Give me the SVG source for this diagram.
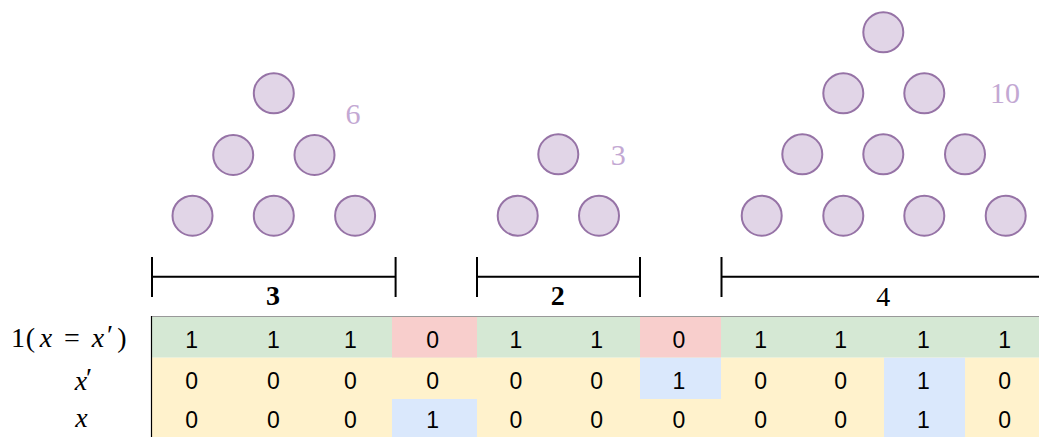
<svg xmlns="http://www.w3.org/2000/svg" width="1039" height="437" viewBox="0 0 1039 437">
<style>
.dot{fill:#e1d5e7;stroke:#9673a6;stroke-width:2}
.cnt{font-family:"Liberation Serif",serif;font-size:30px;fill:#c3a8d3;text-anchor:middle}
.br{stroke:#000;stroke-width:2;fill:none}
.bl{font-family:"Liberation Serif",serif;font-size:28px;fill:#000;text-anchor:middle}
.cell{font-family:"Liberation Sans",Arial,sans-serif;font-size:23px;fill:#000;text-anchor:middle}
.math{font-family:"Liberation Serif",serif;font-size:28px;fill:#000;text-anchor:middle}
.it{font-style:italic}
</style>
<rect width="1039" height="437" fill="#fff"/>
<g id="triangle-6">
<circle class="dot" cx="273.8" cy="93.3" r="20"/>
<circle class="dot" cx="233.2" cy="155" r="20"/>
<circle class="dot" cx="314.5" cy="155" r="20"/>
<circle class="dot" cx="192.5" cy="215.7" r="20"/>
<circle class="dot" cx="273.8" cy="215.7" r="20"/>
<circle class="dot" cx="355.1" cy="215.7" r="20"/>
<text class="cnt" x="353" y="123.5">6</text>
</g>
<g id="triangle-3">
<circle class="dot" cx="558.3" cy="154.3" r="20"/>
<circle class="dot" cx="517.7" cy="215.7" r="20"/>
<circle class="dot" cx="599" cy="215.7" r="20"/>
<text class="cnt" x="618.3" y="164.8">3</text>
</g>
<g id="triangle-10">
<circle class="dot" cx="883.3" cy="32.3" r="20"/>
<circle class="dot" cx="843.3" cy="93.3" r="20"/>
<circle class="dot" cx="924.3" cy="93.3" r="20"/>
<circle class="dot" cx="802.3" cy="154.3" r="20"/>
<circle class="dot" cx="883.3" cy="154.3" r="20"/>
<circle class="dot" cx="965" cy="154.3" r="20"/>
<circle class="dot" cx="761.7" cy="215.7" r="20"/>
<circle class="dot" cx="843.3" cy="215.7" r="20"/>
<circle class="dot" cx="924.3" cy="215.7" r="20"/>
<circle class="dot" cx="1005.7" cy="215.7" r="20"/>
<text class="cnt" x="1005" y="103">10</text>
</g>
<g id="connectors">
<path class="br" d="M152 276.7H395.6M152 257V297M395.6 257V297"/>
<path class="br" d="M477 276.7H640M477 257V297M640 257V297"/>
<path class="br" d="M721.5 276.7H1039M721.5 257V297"/>
</g>
<g id="bracket-labels">
<text class="bl" x="273" y="305" font-weight="bold">3</text>
<text class="bl" x="557.7" y="305" font-weight="bold">2</text>
<text class="bl" x="883.3" y="306">4</text>
</g>
<g id="table">
<rect x="151.5" y="316.5" width="887.5" height="41.2" fill="#d5e8d4"/>
<rect x="392" y="316.5" width="85" height="41.2" fill="#f8cecc"/>
<rect x="640" y="316.5" width="81" height="41.2" fill="#f8cecc"/>
<rect x="151.5" y="357.7" width="887.5" height="80" fill="#fff2cc"/>
<rect x="640" y="357.7" width="81" height="41.3" fill="#dae8fc"/>
<rect x="884" y="357.7" width="81" height="80" fill="#dae8fc"/>
<rect x="392" y="399" width="85" height="38.5" fill="#dae8fc"/>
<line x1="151.5" y1="316.5" x2="1039" y2="316.5" stroke="#999" stroke-width="1"/>
<line x1="151.5" y1="316" x2="151.5" y2="437" stroke="#000" stroke-width="1.2"/>
<g id="row-eq">
<text class="cell" x="191.7" y="347.5">1</text>
<text class="cell" x="273.3" y="347.5">1</text>
<text class="cell" x="350.5" y="347.5">1</text>
<text class="cell" x="432.7" y="347.5">0</text>
<text class="cell" x="516" y="347.5">1</text>
<text class="cell" x="596.7" y="347.5">1</text>
<text class="cell" x="679" y="347.5">0</text>
<text class="cell" x="760.7" y="347.5">1</text>
<text class="cell" x="840.7" y="347.5">1</text>
<text class="cell" x="923.3" y="347.5">1</text>
<text class="cell" x="1004.7" y="347.5">1</text>
</g>
<g id="row-xprime">
<text class="cell" x="191.7" y="388.5">0</text>
<text class="cell" x="273.3" y="388.5">0</text>
<text class="cell" x="350.5" y="388.5">0</text>
<text class="cell" x="432.7" y="388.5">0</text>
<text class="cell" x="516" y="388.5">0</text>
<text class="cell" x="596.7" y="388.5">0</text>
<text class="cell" x="679" y="388.5">1</text>
<text class="cell" x="760.7" y="388.5">0</text>
<text class="cell" x="840.7" y="388.5">0</text>
<text class="cell" x="923.3" y="388.5">1</text>
<text class="cell" x="1004.7" y="388.5">0</text>
</g>
<g id="row-x">
<text class="cell" x="191.7" y="428">0</text>
<text class="cell" x="273.3" y="428">0</text>
<text class="cell" x="350.5" y="428">0</text>
<text class="cell" x="432.7" y="428">1</text>
<text class="cell" x="516" y="428">0</text>
<text class="cell" x="596.7" y="428">0</text>
<text class="cell" x="679" y="428">0</text>
<text class="cell" x="760.7" y="428">0</text>
<text class="cell" x="840.7" y="428">0</text>
<text class="cell" x="923.3" y="428">1</text>
<text class="cell" x="1004.7" y="428">0</text>
</g>
</g>
<g id="row-labels">
<text class="math" y="346.7"><tspan x="18">1</tspan><tspan x="30.5">(</tspan><tspan x="46" class="it">x</tspan><tspan x="72">=</tspan><tspan x="98" class="it">x</tspan><tspan x="110" dy="-3">′</tspan><tspan x="122" dy="3">)</tspan></text>
<text class="math" y="390"><tspan x="81" class="it">x</tspan><tspan x="89" dy="-3">′</tspan></text>
<text class="math" y="426.5"><tspan x="81.5" class="it">x</tspan></text>
</g>
</svg>
